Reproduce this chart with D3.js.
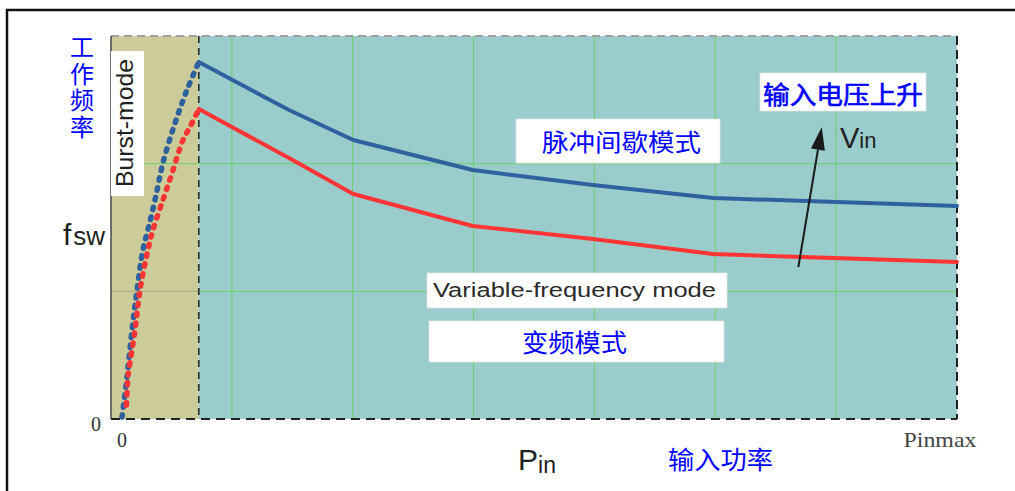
<!DOCTYPE html>
<html>
<head>
<meta charset="utf-8">
<script src="https://cdn.jsdelivr.net/npm/d3@7"></script>
<style>
html,body{margin:0;padding:0;background:#fff;}
svg{display:block;}
</style>
</head>
<body>
<svg id="chart" width="1015" height="491"></svg>
<script>
// ---- data (P / Pinmax, fsw in grid units) ----
const solidX   = [0.092, 0.20, 0.277, 0.42, 0.564, 0.708, 1.0];
const blueSolid = [2.796, 2.420, 2.185, 1.950, 1.833, 1.731, 1.668];
const redSolid  = [2.428, 2.044, 1.762, 1.512, 1.410, 1.292, 1.230];

const blueBurstX = [0.000, 0.006, 0.012, 0.018, 0.025, 0.031, 0.0395, 0.049, 0.0635, 0.0778, 0.092];
const blueBurstY = [0.015, 0.329, 0.697, 1.010, 1.324, 1.480, 1.715, 2.005, 2.318, 2.577, 2.796];
const redBurstX  = [0.0048, 0.006, 0.0072, 0.0156, 0.0216, 0.031, 0.037, 0.049, 0.060, 0.073, 0.0814, 0.092];
const redBurstY  = [0.055, 0.204, 0.329, 0.697, 1.010, 1.324, 1.480, 1.715, 1.927, 2.185, 2.287, 2.428];

const burstEnd = 0.092;
const gridCols = [1, 2, 3, 4, 5, 6];
const gridRows = [1, 2];
const xTickLabels = ["0", "Pinmax"];
const yTickLabels = ["0"];
const vinArrow = [[0.810, 1.19], [0.838, 2.287]];

// ---- scales ----
const svg = d3.select("#chart");
const x = d3.scaleLinear([0, 1], [122, 957]);
const y = d3.scaleLinear([0, 3], [419, 36]);
const gx = d3.scaleLinear([0, 7], [111, 957]);
const L = gx(0), R = x(1), T = y(3), B = y(0), BX = x(burstEnd);

const CJK = "'Noto Sans CJK SC', sans-serif";
const SANS = "'Liberation Sans', Arial, sans-serif";
const SERIF = "'Liberation Serif', 'Times New Roman', serif";
const BLUE = "#0000ff";

// outer frame
svg.append("rect").attr("x", 7).attr("y", 10).attr("width", 1040).attr("height", 520)
  .attr("fill", "none").attr("stroke", "#111").attr("stroke-width", 2.5);

// backgrounds
svg.append("rect").attr("x", L).attr("y", T).attr("width", BX - L).attr("height", B - T).attr("fill", "#cccb9a");
svg.append("rect").attr("x", BX).attr("y", T).attr("width", R - BX).attr("height", B - T).attr("fill", "#9acccc");

// grid
svg.append("g").selectAll("line").data(gridCols).join("line")
  .attr("x1", d => gx(d)).attr("x2", d => gx(d)).attr("y1", T).attr("y2", B)
  .attr("stroke", "#6cce6c").attr("stroke-width", 1);
svg.append("g").selectAll("line").data(gridRows).join("line")
  .attr("x1", BX).attr("x2", R).attr("y1", d => y(d)).attr("y2", d => y(d))
  .attr("stroke", "#6cce6c").attr("stroke-width", 1);
svg.append("g").selectAll("line").data(gridRows).join("line")
  .attr("x1", L).attr("x2", BX).attr("y1", d => y(d)).attr("y2", d => y(d))
  .attr("stroke", d => d === 2 ? "#6cce6c" : "#a8a88a").attr("stroke-width", 1);

// borders
svg.append("line").attr("x1", L).attr("x2", R).attr("y1", T).attr("y2", T)
  .attr("stroke", "#a0a0a0").attr("stroke-width", 2).attr("stroke-dasharray", "8,5");
svg.append("line").attr("x1", L).attr("x2", R).attr("y1", B).attr("y2", B)
  .attr("stroke", "#222").attr("stroke-width", 2).attr("stroke-dasharray", "9,6");
svg.append("line").attr("x1", R).attr("x2", R).attr("y1", T).attr("y2", B)
  .attr("stroke", "#222").attr("stroke-width", 2).attr("stroke-dasharray", "9,5");
svg.append("line").attr("x1", L).attr("x2", L).attr("y1", T).attr("y2", B)
  .attr("stroke", "#444").attr("stroke-width", 1.5);
svg.append("line").attr("x1", BX).attr("x2", BX).attr("y1", T).attr("y2", B)
  .attr("stroke", "#222").attr("stroke-width", 1.5).attr("stroke-dasharray", "7,5");

// Burst-mode label box
svg.append("rect").attr("x", 111).attr("y", 51).attr("width", 33).attr("height", 145).attr("fill", "#fff");
svg.append("text").attr("transform", "translate(133,123) rotate(-90)")
  .attr("text-anchor", "middle").attr("font-family", SANS).attr("font-size", 24)
  .attr("fill", "#222").attr("textLength", 128).attr("lengthAdjust", "spacingAndGlyphs")
  .text("Burst-mode");

// curves
const line = d3.line().x(d => x(d[0])).y(d => y(d[1]));
const smooth = d3.line().x(d => x(d[0])).y(d => y(d[1])).curve(d3.curveCatmullRom);
const blueC = "#2f619e", redC = "#ff3535";

svg.append("path").datum(blueBurstX.map((v, i) => [v, blueBurstY[i]])).attr("d", smooth)
  .attr("fill", "none").attr("stroke", blueC).attr("stroke-width", 5.5)
  .attr("stroke-linecap", "round").attr("stroke-dasharray", "2.5,7.5");
svg.append("path").datum(redBurstX.map((v, i) => [v, redBurstY[i]])).attr("d", smooth)
  .attr("fill", "none").attr("stroke", redC).attr("stroke-width", 5.5)
  .attr("stroke-linecap", "round").attr("stroke-dasharray", "2.5,7.5").attr("stroke-dashoffset", 3);
svg.append("path").datum(solidX.map((v, i) => [v, blueSolid[i]])).attr("d", line)
  .attr("fill", "none").attr("stroke", blueC).attr("stroke-width", 4)
  .attr("stroke-linecap", "round").attr("stroke-linejoin", "round");
svg.append("path").datum(solidX.map((v, i) => [v, redSolid[i]])).attr("d", line)
  .attr("fill", "none").attr("stroke", redC).attr("stroke-width", 4)
  .attr("stroke-linecap", "round").attr("stroke-linejoin", "round");

// text boxes
function box(bx, by, bw, bh) {
  svg.append("rect").attr("x", bx).attr("y", by).attr("width", bw).attr("height", bh)
    .attr("fill", "#fff").attr("stroke", "#e4e4e4").attr("stroke-width", 0.8);
}
box(516, 119, 204, 44);
svg.append("text").attr("x", 542).attr("y", 151).attr("font-family", CJK).attr("font-size", 24)
  .attr("fill", BLUE).attr("textLength", 159).attr("lengthAdjust", "spacingAndGlyphs").text("脉冲间歇模式");

box(760, 73, 166, 38);
svg.append("text").attr("x", 763).attr("y", 104).attr("font-family", CJK).attr("font-size", 25)
  .attr("fill", BLUE).attr("stroke", BLUE).attr("stroke-width", 0.6)
  .attr("textLength", 160).attr("lengthAdjust", "spacingAndGlyphs").text("输入电压上升");

box(427, 273, 300, 35);
svg.append("text").attr("x", 433).attr("y", 297).attr("font-family", SANS).attr("font-size", 20)
  .attr("fill", "#2a2a2a").attr("textLength", 283).attr("lengthAdjust", "spacingAndGlyphs")
  .text("Variable-frequency mode");

box(429, 321, 295, 41);
svg.append("text").attr("x", 522).attr("y", 352).attr("font-family", CJK).attr("font-size", 25)
  .attr("fill", BLUE).attr("textLength", 105).attr("lengthAdjust", "spacingAndGlyphs").text("变频模式");

// Vin arrow
const a0 = [x(vinArrow[0][0]), y(vinArrow[0][1])], a1 = [x(vinArrow[1][0]), y(vinArrow[1][1])];
const ang = Math.atan2(a1[1] - a0[1], a1[0] - a0[0]);
const hl = 23, hw = 7;
const base = [a1[0] - hl * Math.cos(ang), a1[1] - hl * Math.sin(ang)];
svg.append("line").attr("x1", a0[0]).attr("y1", a0[1]).attr("x2", base[0]).attr("y2", base[1])
  .attr("stroke", "#1a1a1a").attr("stroke-width", 2);
const px = -Math.sin(ang), py = Math.cos(ang);
svg.append("path")
  .attr("d", `M${a1[0]},${a1[1]} L${base[0] + hw * px},${base[1] + hw * py} L${base[0] - hw * px},${base[1] - hw * py} Z`)
  .attr("fill", "#1a1a1a");
const vin = svg.append("text").attr("x", 840).attr("y", 148).attr("font-family", SANS).attr("fill", "#222");
vin.append("tspan").attr("font-size", 29).text("V");
vin.append("tspan").attr("font-size", 22).text("in");

// axis labels
svg.append("text").attr("x", x(0)).attr("y", 447).attr("text-anchor", "middle")
  .attr("font-family", SERIF).attr("font-size", 20).attr("fill", "#333").text(xTickLabels[0]);
svg.append("text").attr("x", x(1) - 17).attr("y", 447).attr("text-anchor", "middle")
  .attr("font-family", SERIF).attr("font-size", 21).attr("fill", "#444")
  .attr("textLength", 73).attr("lengthAdjust", "spacingAndGlyphs").text(xTickLabels[1]);
svg.append("text").attr("x", 96).attr("y", y(0) + 12).attr("text-anchor", "middle")
  .attr("font-family", SERIF).attr("font-size", 20).attr("fill", "#333").text(yTickLabels[0]);

const fsw = svg.append("text").attr("x", 63).attr("y", 245).attr("font-family", SANS).attr("fill", "#222");
fsw.append("tspan").attr("font-size", 30).text("f");
fsw.append("tspan").attr("font-size", 26).attr("dx", 2).text("sw");

const pin = svg.append("text").attr("x", 518).attr("y", 470).attr("font-family", SANS).attr("fill", "#222");
pin.append("tspan").attr("font-size", 30).text("P");
pin.append("tspan").attr("font-size", 23).attr("dy", 3).text("in");

svg.append("text").attr("x", 668).attr("y", 469).attr("font-family", CJK).attr("font-size", 25)
  .attr("fill", BLUE).attr("textLength", 105).attr("lengthAdjust", "spacingAndGlyphs").text("输入功率");

// vertical y-axis title
svg.append("text").attr("x", 82).attr("y", 35)
  .style("writing-mode", "vertical-rl").style("glyph-orientation-vertical", "0")
  .attr("font-family", CJK).attr("font-size", 24).attr("letter-spacing", 2.5)
  .attr("fill", BLUE).text("工作频率");
</script>
</body>
</html>
